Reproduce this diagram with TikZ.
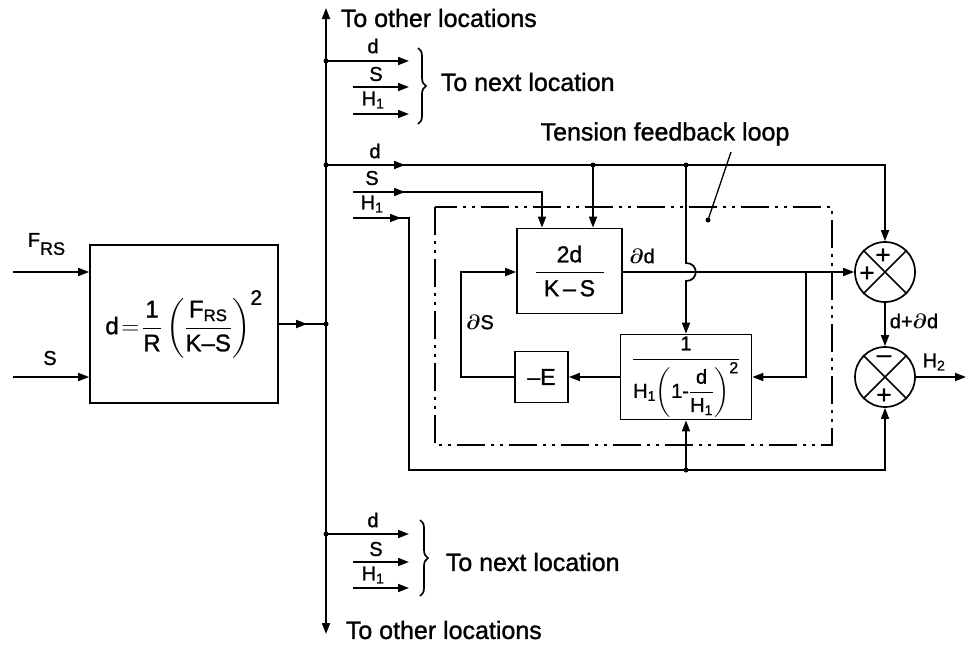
\documentclass[tikz,border=0pt]{standalone}
\usepackage{fontspec}
\setmainfont{Liberation Sans}[BoldFont={Liberation Sans},BoldFeatures={FakeBold=1.2}]
\usepackage{amsmath}
\usetikzlibrary{arrows.meta,decorations.markings,decorations.pathreplacing}
\begin{document}
\begin{tikzpicture}[x=1pt,y=-1pt, line width=1.7pt,
 tip/.style={-{Triangle[length=11pt,width=8pt]}},
 blk/.style={draw, line width=1.7pt, inner sep=0pt, anchor=center},
 sumj/.style={draw, circle, minimum size=60pt, inner sep=0pt, line width=1.7pt},
 lbl/.style={font=\fontsize{20}{22}\selectfont\bfseries, inner sep=0pt},
 big/.style={font=\fontsize{25}{28}\selectfont\bfseries, inner sep=0pt},
 sgn/.style={font=\fontsize{26}{28}\selectfont\bfseries, inner sep=0pt},
 midarr/.style={postaction={decorate}, decoration={markings, mark=at position #1 with {\arrow{Triangle[length=11pt,width=8pt]}}}},
 jdot/.style={circle, fill, inner sep=0pt, minimum size=5pt},
 dashdot/.style={line width=1.5pt, dash pattern=on 28pt off 6pt on 3pt off 6pt on 3pt off 6pt},
 brc/.style={decorate, decoration={brace, amplitude=8pt}, line width=1.7pt}]
\useasboundingbox (0,0) rectangle (973,648);

% blocks
\node[blk, minimum width=188pt, minimum height=158pt] (L) at (184,324)
 {\fontsize{24}{28}\selectfont\bfseries $\displaystyle \text{d}\!=\!\frac{\text{1}}{\text{R}}\left(\frac{\text{F}_{\text{RS}}}{\text{K–S}}\right)^{\mbox{\fontsize{21}{22}\selectfont\bfseries 2}}$};
\node[blk, minimum width=105pt, minimum height=85pt] (A) at (569.5,271)
 {\fontsize{23}{26}\selectfont\bfseries $\dfrac{\text{2d}}{\makebox[68pt]{K\,–\,S}}$};
\node[blk, minimum width=131pt, minimum height=85pt] (H) at (686,377)
 {\fontsize{20}{22}\selectfont\bfseries $\dfrac{\text{1}}{\text{H}_{\text{1}}\!\left(\text{1-}\dfrac{\text{d}}{\text{H}_{\text{1}}}\right)^{\mbox{\fontsize{16}{18}\selectfont\bfseries 2}}}$};
\node[blk, minimum width=53pt, minimum height=51pt] (E) at (541.5,377)
 {\fontsize{23}{26}\selectfont\bfseries –E};
\node[sumj] (s1) at (885,272) {};
\node[sumj] (s2) at (885,377) {};
\draw (s1.north west) -- (s1.south east) (s1.north east) -- (s1.south west);
\draw (s2.north west) -- (s2.south east) (s2.north east) -- (s2.south west);
\node[sgn] at (883,256) {+};
\node[sgn] at (867,274) {+};
\node[sgn] at (884,359) {–};
\node[sgn] at (884,396) {+};

% bus
\coordinate (bt) at (326,8);
\coordinate (bb) at (326,634);
\draw[{Triangle[length=11pt,width=8pt]}-{Triangle[length=11pt,width=8pt]}] (bb) -- (bt);
\node[big, anchor=west] at (340,18) {To other locations};
\node[big, anchor=west] at (345,630) {To other locations};

% inputs to L
\coordinate (fin) at (13,272);
\coordinate (sin) at (13,377);
\draw[tip] (fin) -- (fin -| L.west);
\draw[tip] (sin) -- (sin -| L.west);
\node[lbl, anchor=west] at (27,244) {F\raisebox{-8pt}{\fontsize{18}{20}\selectfont RS}};
\node[lbl] at (50,358) {S};

% output of L
\coordinate (lj) at (326,324);
\draw[midarr=0.6] (L.east) -- (lj);
\node[jdot] at (lj) {};

% top group
\coordinate (td0) at (326,61); \coordinate (td1) at (409,61);
\coordinate (ts0) at (353,87); \coordinate (ts1) at (409,87);
\coordinate (th0) at (353,114); \coordinate (th1) at (409,114);
\draw[tip] (td0) -- (td1); \node[jdot] at (td0) {};
\draw[tip] (ts0) -- (ts1);
\draw[tip] (th0) -- (th1);
\node[lbl] at (373,46) {d};
\node[lbl] at (376,74) {S};
\node[lbl] at (373,100) {H$_{\text{1}}$};
\draw[brc] (418,48) -- (418,124);
\node[big, anchor=west] at (440,82) {To next location};

% bottom group
\coordinate (bd0) at (326,534); \coordinate (bd1) at (409,534);
\coordinate (bs0) at (353,562); \coordinate (bs1) at (409,562);
\coordinate (bh0) at (353,588); \coordinate (bh1) at (409,588);
\draw[tip] (bd0) -- (bd1); \node[jdot] at (bd0) {};
\draw[tip] (bs0) -- (bs1);
\draw[tip] (bh0) -- (bh1);
\node[lbl] at (373,520) {d};
\node[lbl] at (376,549) {S};
\node[lbl] at (373,575) {H$_{\text{1}}$};
\draw[brc] (420,520) -- (420,596);
\node[big, anchor=west] at (445,562) {To next location};

% main group
\coordinate (md0) at (326,165);
\coordinate (mdA) at (593,165);
\coordinate (mdH) at (686,165);
\coordinate (mdR) at (885,165);
\draw[tip, midarr=79pt] (md0) -- (mdR) -- (s1.north);
\node[jdot] at (md0) {}; \node[jdot] at (mdA) {}; \node[jdot] at (mdH) {};
\draw[tip] (mdA) -- (mdA |- A.north);
\draw[tip] (mdH) -- (686,263) .. controls (699,263) and (699,281) .. (686,281) -- (H.north);
\coordinate (ms0) at (353,192); \coordinate (ms1) at (542,192);
\draw[tip, midarr=52pt] (ms0) -- (ms1) -- (ms1 |- A.north);
\coordinate (mh0) at (353,218); \coordinate (mh1) at (409,218);
\coordinate (mh2) at (409,470); \coordinate (mh3) at (686,470);
\coordinate (mh4) at (885,470);
\draw[tip, midarr=48pt] (mh0) -- (mh1) -- (mh2) -- (mh4) -- (s2.south);
\draw[tip] (mh3) -- (H.south); \node[jdot] at (mh3) {};
\node[lbl] at (375,151) {d};
\node[lbl] at (372,178) {S};
\node[lbl] at (372,204) {H$_{\text{1}}$};

% inner loop
\coordinate (bA) at (806,272);
\coordinate (bA2) at (806,377);
\coordinate (eL) at (461,377);
\coordinate (eU) at (461,272);
\draw[tip] (A.east |- bA) -- (s1.west);
\draw[tip] (bA) -- (bA2) -- (H.east);
\draw[tip] (H.west) -- (E.east);
\draw[tip] (E.west) -- (eL) -- (eU) -- (A.west |- eU);
\draw[tip] (s1.south) -- (s2.north);
\coordinate (hout) at (966,377);
\draw[tip] (s2.east) -- (hout);
\node[lbl] at (642,256) {$\boldsymbol{\partial}$d};
\node[lbl] at (480,322) {$\boldsymbol{\partial}$S};
\node[lbl, anchor=west] at (889,321) {d+$\boldsymbol{\partial}$d};
\node[lbl] at (934,362) {H$_{\text{2}}$};

% tension loop
\draw[dashdot] (435,207) rectangle (832,445);
\coordinate (ld) at (708,220);
\coordinate (lt) at (731,152);
\draw[line width=1.3pt] (lt) -- (ld); \node[jdot] at (ld) {};
\node[big] at (665,134) {Tension feedback loop};
\end{tikzpicture}
\end{document}
